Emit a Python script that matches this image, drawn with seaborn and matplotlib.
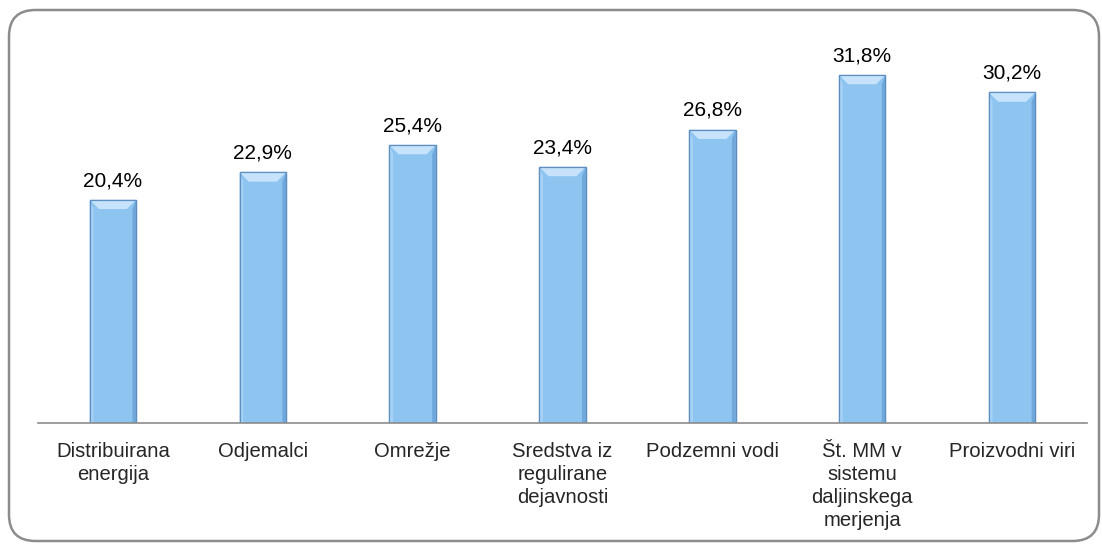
import numpy as np
import pandas as pd
import seaborn as sns
import matplotlib.pyplot as plt
from matplotlib.patches import FancyBboxPatch, Polygon

kategorije = ["Distribuirana\nenergija", "Odjemalci", "Omrežje",
              "Sredstva iz\nregulirane\ndejavnosti", "Podzemni vodi",
              "Št. MM v\nsistemu\ndaljinskega\nmerjenja", "Proizvodni viri"]
vrednosti = [20.4, 22.9, 25.4, 23.4, 26.8, 31.8, 30.2]
oznake = ["20,4%", "22,9%", "25,4%", "23,4%", "26,8%", "31,8%", "30,2%"]

df = pd.DataFrame({"kategorija": kategorije, "vrednost": vrednosti})

sns.set_style("white")
plt.rcParams["font.family"] = ["Liberation Sans", "DejaVu Sans"]

fig = plt.figure(figsize=(11.02, 5.44), dpi=100)

# zaobljen okvir okrog grafa
levo_o, zgoraj_o, desno_o, spodaj_o = 9 / 1102, 1 - 10 / 544, 1099 / 1102, 1 - 541 / 544
okvir = FancyBboxPatch((levo_o, spodaj_o), desno_o - levo_o, zgoraj_o - spodaj_o,
                       boxstyle="round,pad=0,rounding_size=0.024",
                       transform=fig.transFigure, fill=False,
                       edgecolor="#8c8c8c", linewidth=1.8,
                       mutation_aspect=1102 / 544)
fig.patches.append(okvir)

ax = fig.add_axes([38 / 1102, 1 - 423 / 544, 1049 / 1102, 394 / 544])
sns.barplot(data=df, x="kategorija", y="vrednost", color="#8ec4f0",
            width=0.31, saturation=1, edgecolor="#5d8fc0", linewidth=0.9, ax=ax)

# bevel efekt na stolpcih
for p in ax.patches:
    x0, y0 = p.get_x(), p.get_y()
    w, h = p.get_width(), p.get_height()
    d = w * 0.2
    dy = 0.85
    z = p.get_zorder() + 0.1
    ax.add_patch(Polygon([[x0, y0 + h], [x0 + w, y0 + h], [x0 + w - d, y0 + h - dy],
                          [x0 + d, y0 + h - dy]], closed=True,
                         facecolor="#c6e3fb", edgecolor="none", zorder=z))
    ax.add_patch(Polygon([[x0, y0 + h], [x0 + d * 0.4, y0 + h - dy],
                          [x0 + d * 0.4, y0], [x0, y0]], closed=True,
                         facecolor="#a8d2f5", edgecolor="none", zorder=z))
    ax.add_patch(Polygon([[x0 + w, y0 + h], [x0 + w - d * 0.4, y0 + h - dy],
                          [x0 + w - d * 0.4, y0], [x0 + w, y0]], closed=True,
                         facecolor="#70a8dc", edgecolor="none", zorder=z))
    ax.add_patch(Polygon([[x0, y0], [x0, y0 + h], [x0 + w, y0 + h], [x0 + w, y0]],
                         closed=True, fill=False, edgecolor="#5d8fc0",
                         linewidth=0.9, zorder=z + 0.1))

for i, (v, t) in enumerate(zip(vrednosti, oznake)):
    ax.annotate(t, (i, v), xytext=(0, 7), textcoords="offset points",
                ha="center", va="bottom", fontsize=15, color="black")

ax.set_xlim(-0.5, 6.5)
ax.set_ylim(0, 36)
ax.set_xlabel("")
ax.set_ylabel("")
ax.set_yticks([])
ax.tick_params(axis="x", length=0, pad=14, labelsize=14.6)
for lbl in ax.get_xticklabels():
    lbl.set_linespacing(1.25)
for s in ["top", "right", "left"]:
    ax.spines[s].set_visible(False)
ax.spines["bottom"].set_color("#8c8c8c")
ax.spines["bottom"].set_linewidth(1.2)
ax.patch.set_alpha(0)

fig.savefig("out.png", dpi=100)
